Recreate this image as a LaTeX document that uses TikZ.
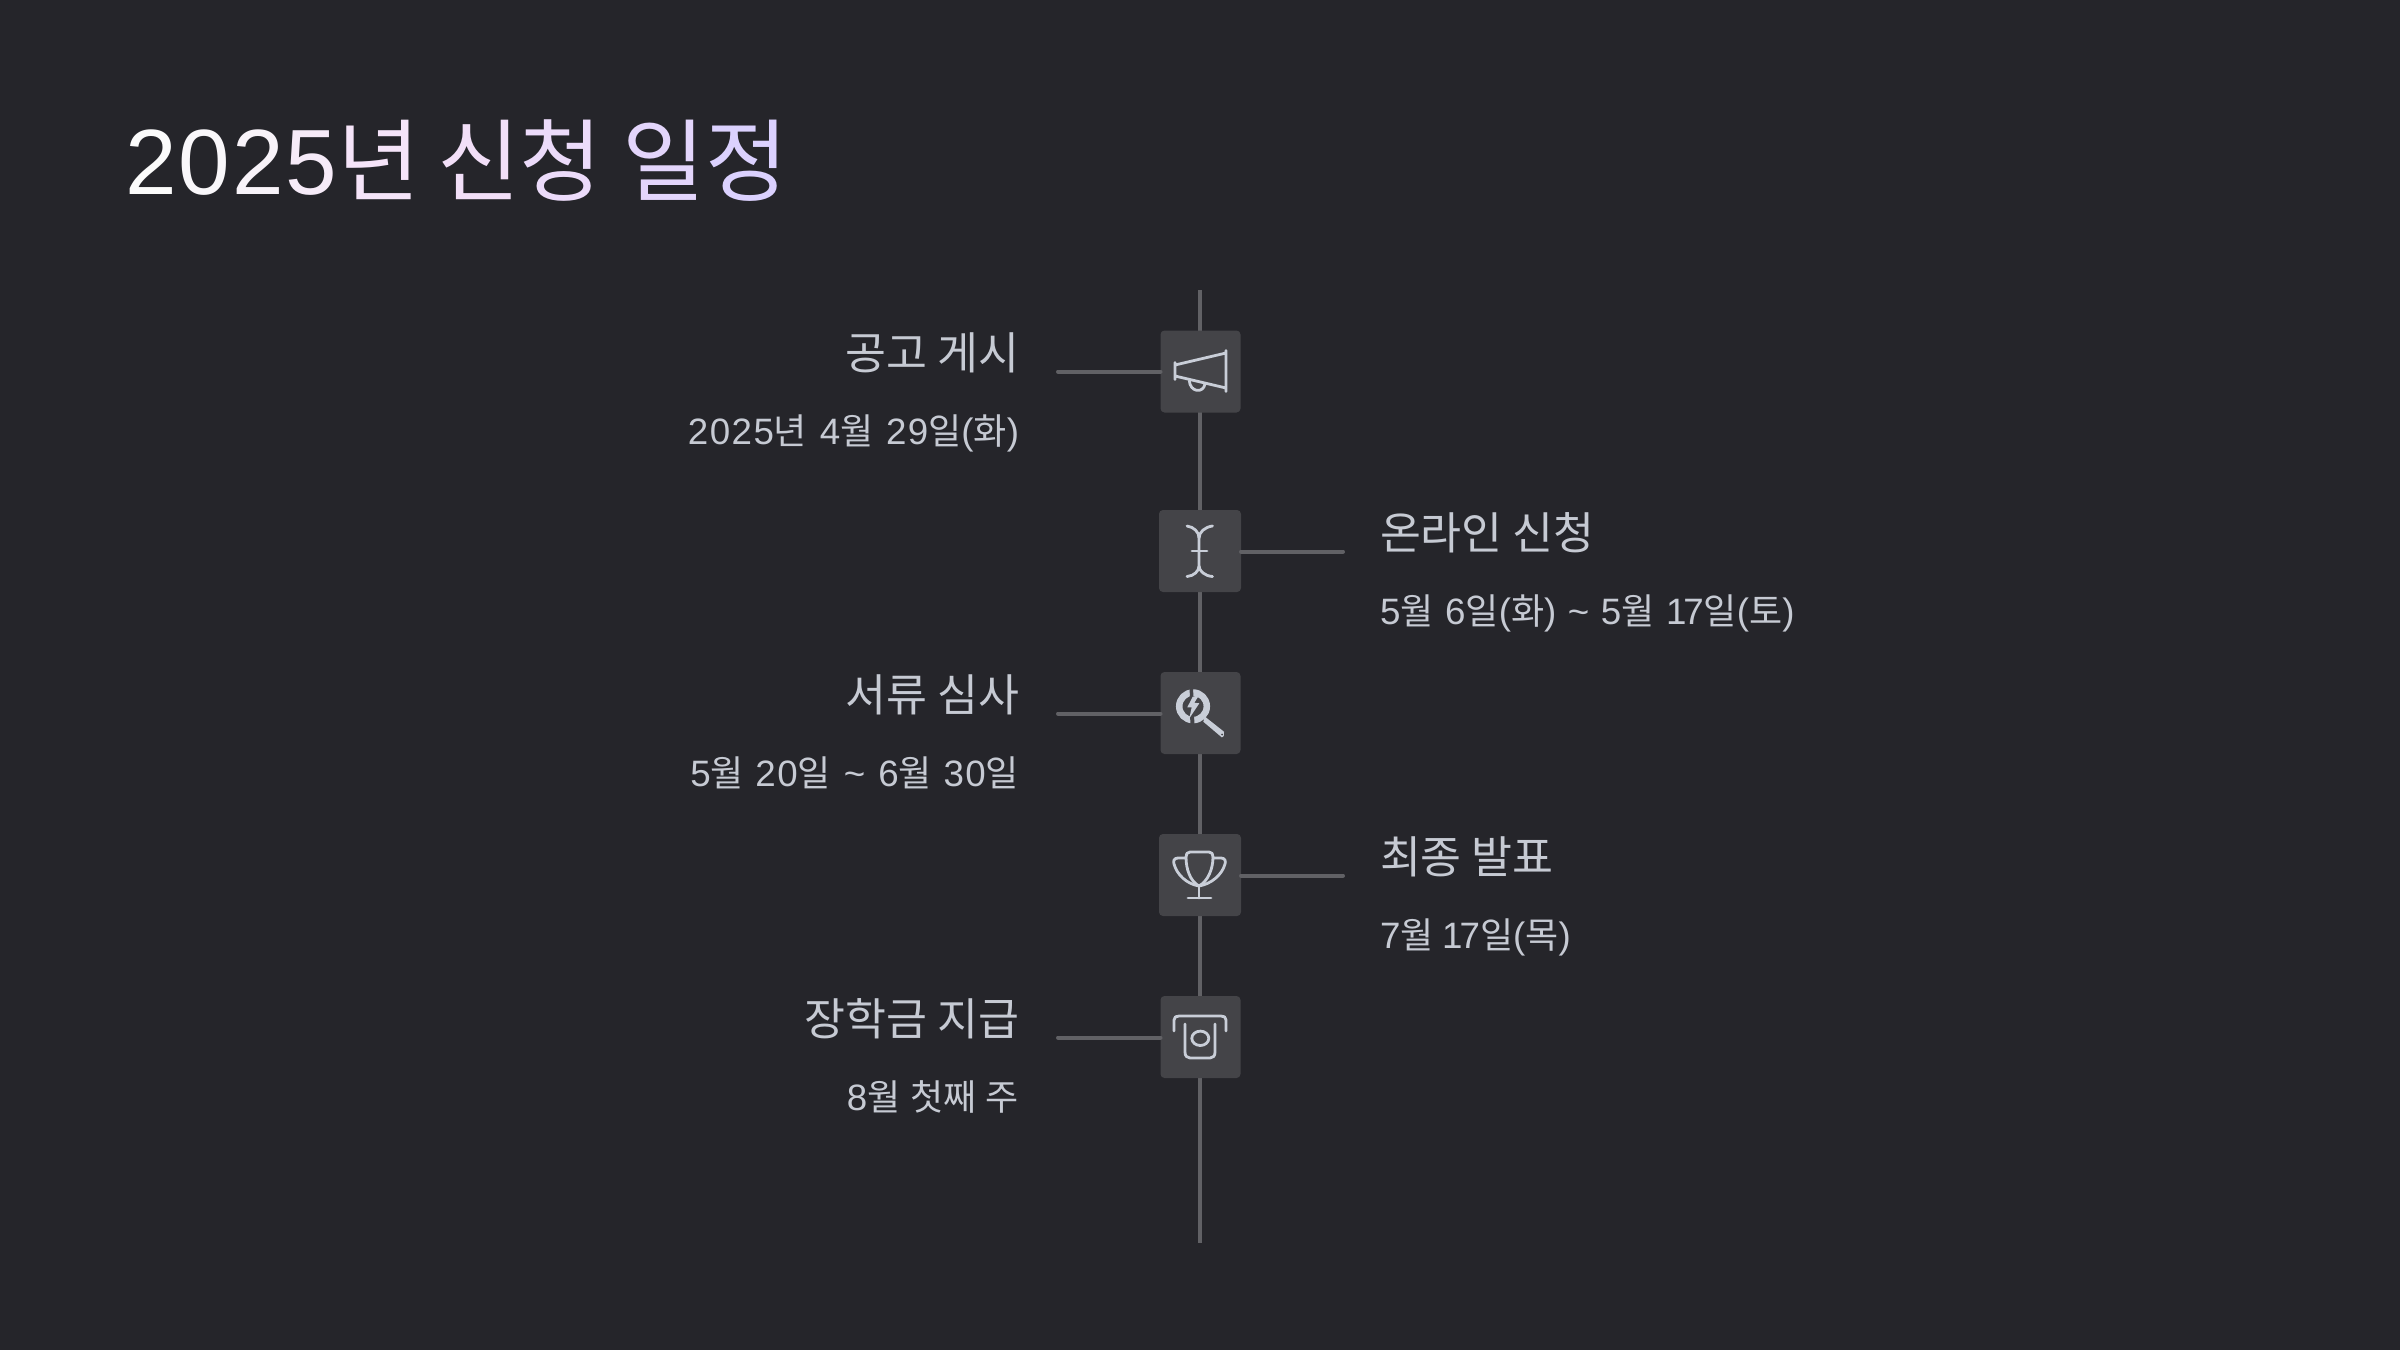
\documentclass[tikz,border=0pt]{standalone}
\usepackage{fontspec}
\setmainfont{Noto Sans CJK KR}
\newfontfamily\latf{Liberation Sans}[Scale=1.02,LetterSpace=4]
\newfontfamily\latp{Liberation Sans}[Scale=1.02]
\newfontfamily\latt{Liberation Sans}[Scale=1.03]
\newcommand{\dg}[1]{{\latf #1}}
\newcommand{\pn}[1]{{\latp #1}}
\newcommand{\oneseven}{{\latf 1\kern-3pt 7}}
\definecolor{bgc}{HTML}{25252A}
\definecolor{boxc}{HTML}{444448}
\definecolor{linec}{HTML}{616165}
\definecolor{inkc}{HTML}{C9CED8}
\definecolor{subc}{HTML}{C6CAD3}
\tikzset{
  every node/.style={inner sep=0pt,outer sep=0pt},
  iconbox/.style={draw=none,fill=boxc,rounded corners=4pt,minimum width=80pt,minimum height=82pt},
  iconwide/.style={iconbox,minimum width=82pt},
  rail/.style={draw=linec,line width=4pt},
  stub/.style={draw=linec,line width=4pt,line cap=round},
  icon/.style={draw=inkc,line width=2.8pt,line cap=round,line join=round,fill=none},
  headl/.style={anchor=base east,text=subc,font=\fontsize{44.5}{50}\selectfont},
  subl/.style={anchor=base east,text=subc,font=\fontsize{36}{42}\selectfont},
  headr/.style={anchor=base west,text=subc,font=\fontsize{44.5}{50}\selectfont},
  subr/.style={anchor=base west,text=subc,font=\fontsize{36}{42}\selectfont},
}
\begin{document}
\begin{tikzpicture}[x=1pt,y=-1pt]
\useasboundingbox (0,0) rectangle (2400,1349.6);
\fill[bgc] (-5,-5) rectangle (2405,1355);
\coordinate (top) at (1200,290);
\coordinate (bot) at (1200,1243);
\draw[rail] (top) -- (bot);
% title
\node[anchor=base west,font=\fontsize{90}{100}\selectfont] (title) at (125,194) {\latt\textcolor[HTML]{FBFBFB}{2}\kern2pt\textcolor[HTML]{F9F7FA}{0}\kern2pt\textcolor[HTML]{F8F3F9}{2}\kern2pt\textcolor[HTML]{F6EBF8}{5}\rmfamily\textcolor[HTML]{F5E4F9}{년} \kern-3pt\textcolor[HTML]{F2DFF8}{신}\textcolor[HTML]{ECDBFA}{청} \textcolor[HTML]{E3D5FB}{일}\textcolor[HTML]{DBD1FE}{정}};
% boxes
\node[iconbox] (b1) at (1200.5,371.5) {};
\node[iconwide] (b2) at (1200,551) {};
\node[iconbox] (b3) at (1200.5,713) {};
\node[iconwide] (b4) at (1200,875) {};
\node[iconbox] (b5) at (1200.5,1037) {};
% stubs
\coordinate (c1) at (1058,371.5);
\coordinate (c2) at (1343,551.5);
\coordinate (c3) at (1058,713.5);
\coordinate (c4) at (1343,875.5);
\coordinate (c5) at (1058,1037.5);
\draw[stub] (c1) -- (b1.west |- c1);
\draw[stub] (b2.east |- c2) -- (c2);
\draw[stub] (c3) -- (b3.west |- c3);
\draw[stub] (b4.east |- c4) -- (c4);
\draw[stub] (c5) -- (b5.west |- c5);
% labels
\node[headl] (h1) at (1019.5,369) {공고 게시};
\node[subl]  (s1) at (1019,444) {\dg{2025}년\kern1pt\dg{ 4}월\kern1pt\dg{ 29}일\pn{(}화\pn{)}};
\node[headr] (h2) at (1380,549) {온라인 신청};
\node[subr]  (s2) at (1380,624) {\dg{5}월\dg{ 6}일\pn{(}화\pn{)\kern11.5pt\textasciitilde{}\kern11.5pt}\dg{5}월\dg{ }\oneseven 일\pn{(}토\pn{)}};
\node[headl] (h3) at (1019.5,711) {서류 심사};
\node[subl]  (s3) at (1019,786) {\dg{5}월\dg{ 20}일\pn{\kern13pt\textasciitilde{}\kern13pt}\dg{6}월\dg{ 30}일};
\node[headr] (h4) at (1380,873) {최종 발표};
\node[subr]  (s4) at (1380,948) {\dg{7}월\dg{ }\kern-3pt\oneseven 일\pn{(}목\pn{)}};
\node[headl] (h5) at (1019.5,1035) {장학금 지급};
\node[subl]  (s5) at (1019,1110) {\dg{8}월 \kern1.5pt첫째 \kern1.5pt주};
% icon 1 megaphone
\begin{scope}[shift={(1200,371)}]
\draw[icon] (-25,-8.5) -- (-25,8.5) (-25,-6) -- (26,-18) (26,-20.5) -- (26,20.5) (-25,5) -- (26,17);
\draw[icon] (-10.7,9.7) .. controls (-10,21) and (3,23) .. (5,13);
\end{scope}
% icon 2 cursor
\begin{scope}[shift={(1200,551)}]
\draw[icon] (-13,-25) .. controls (-6,-24) and (-1,-19) .. (-1,-13) -- (-1,15) .. controls (-1,20) and (-6,25) .. (-13,25.5);
\draw[icon] (12.5,-25) .. controls (5,-24) and (-1,-19) .. (-1,-13);
\draw[icon] (12.5,25.5) .. controls (5,25) and (-1,20) .. (-1,15);
\draw[icon] (-8,0) -- (7,0);
\end{scope}
% icon 3 magnifier
\begin{scope}[shift={(1200,713)}]
\draw[icon,line width=6.5pt,line cap=butt] (-7,-6.7) circle[radius=13.8];
\fill[boxc] (-10.5,-25) -- (-7,-25) -- (-6.5,-15) -- (-10,-15) -- cycle;
\fill[boxc] (-10,2) -- (-6,2) -- (-5.5,12) -- (-9.5,12) -- cycle;
\fill[inkc] (-7.3,-16.3) -- (-12.7,-5.7) -- (-8.3,-5.7) -- (-10.7,5.3) -- (-0.7,-9.7) -- (-5.7,-10.3) -- (-0.7,-18) -- cycle;
\fill[inkc] (5,3.7) -- (24,18.7) .. controls (25,21) and (23.5,24.5) .. (21.7,24.3) -- (3.3,8.7) -- cycle;
\fill[boxc] (22,21.5) circle[radius=1];
\end{scope}
% icon 4 trophy
\begin{scope}[shift={(1200,875)}]
\draw[icon] (-14,-18) .. controls (-14,-6) and (-10,6) .. (-1,11) .. controls (8,6) and (13,-6) .. (13,-18);
\draw[icon] (-14,-18) .. controls (-14,-21) and (-13,-23) .. (-10,-23) -- (9,-23) .. controls (12,-23) and (13,-21) .. (13,-18);
\draw[icon] (-14,-17) -- (-22,-17) .. controls (-26,-17) and (-27,-14) .. (-26,-11) .. controls (-23,0) and (-13,9) .. (-1,11) .. controls (11,9) and (22,0) .. (25,-11) .. controls (26,-14) and (25,-17) .. (21,-17) -- (13,-17);
\draw[icon] (-1,11) -- (-1,23) (-12,23) -- (11,23);
\end{scope}
% icon 5 atm
\begin{scope}[shift={(1200,1037)}]
\draw[icon] (-26,-6) -- (-26,-17) .. controls (-26,-20) and (-24,-21) .. (-21,-21) -- (21,-21) .. controls (24,-21) and (26,-20) .. (26,-17) -- (26,-6);
\draw[icon] (-15,-13) -- (-15,15) .. controls (-15,19) and (-13,21) .. (-10,21) -- (10,21) .. controls (13,21) and (15,19) .. (15,15) -- (15,-13);
\draw[icon] (0.3,1.3) ellipse[x radius=8.5,y radius=7.2];
\end{scope}
\end{tikzpicture}
\end{document}
